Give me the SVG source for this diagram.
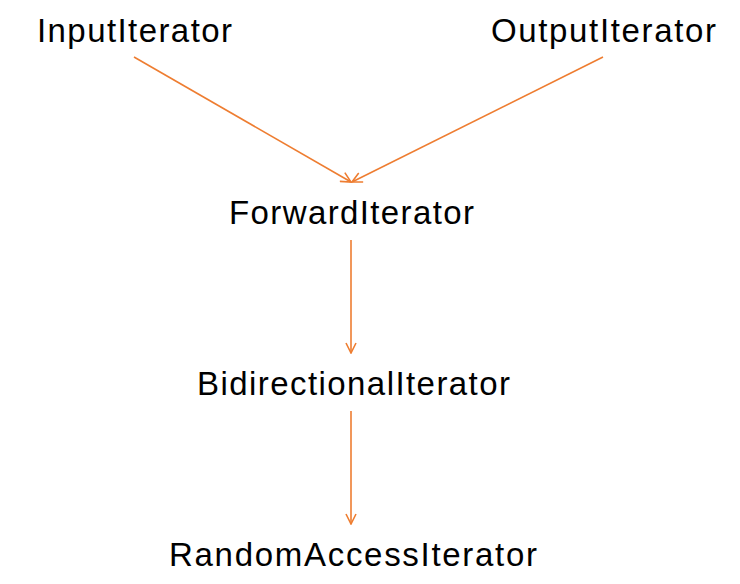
<svg xmlns="http://www.w3.org/2000/svg" width="740" height="584" viewBox="0 0 740 584">
<style>
.lbl{font-family:"Liberation Sans",Arial,sans-serif;font-size:33px;fill:#000;text-anchor:middle}
.edge{stroke:#EE7D31;stroke-width:1.6;fill:none}
</style>
<defs>
<marker id="arr" viewBox="0 0 12 12" refX="11" refY="6" markerWidth="12" markerHeight="12" markerUnits="userSpaceOnUse" orient="auto">
<path d="M1,1 L11,6 L1,11" stroke="#EE7D31" stroke-width="1.6" fill="none"/>
</marker>
</defs>
<rect width="740" height="584" fill="#fff"/>
<g id="connectors">
<line class="edge" x1="134" y1="57" x2="351" y2="182" marker-end="url(#arr)"/>
<line class="edge" x1="603" y1="57" x2="352" y2="182" marker-end="url(#arr)"/>
<line class="edge" x1="351" y1="240" x2="351" y2="353" marker-end="url(#arr)"/>
<line class="edge" x1="351" y1="411" x2="351" y2="524" marker-end="url(#arr)"/>
</g>
<g id="InputIterator"><text class="lbl" x="134.5" y="42" textLength="195" lengthAdjust="spacing">InputIterator</text></g>
<g id="OutputIterator"><text class="lbl" x="603.5" y="42" textLength="225" lengthAdjust="spacing">OutputIterator</text></g>
<g id="ForwardIterator"><text class="lbl" x="351.5" y="224" textLength="245" lengthAdjust="spacing">ForwardIterator</text></g>
<g id="BidirectionalIterator"><text class="lbl" x="353.5" y="395" textLength="313" lengthAdjust="spacing">BidirectionalIterator</text></g>
<g id="RandomAccessIterator"><text class="lbl" x="353" y="566" textLength="368" lengthAdjust="spacing">RandomAccessIterator</text></g>
</svg>
